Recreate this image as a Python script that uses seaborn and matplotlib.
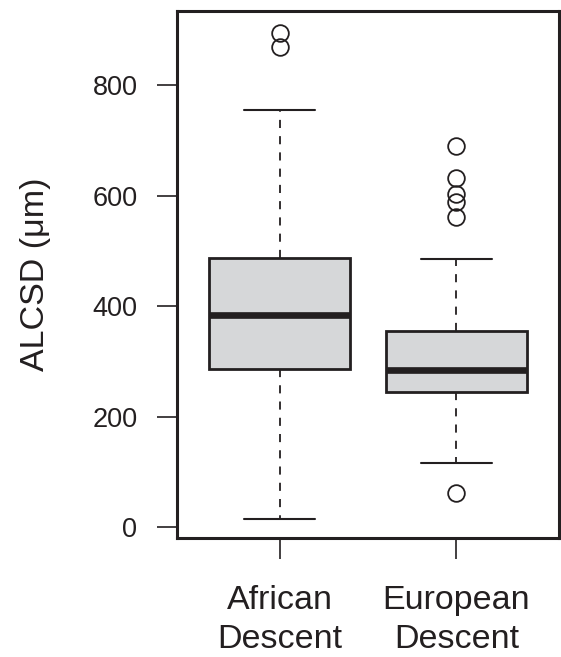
import numpy as np
import pandas as pd
import matplotlib
matplotlib.use("Agg")
import matplotlib.pyplot as plt
import seaborn as sns

# ------------------------------------------------------------
# Data: ALCSD values per group
# ------------------------------------------------------------
groups = ["African\nDescent", "European\nDescent"]

african = [16, 120, 190, 250, 286, 310, 340, 365, 384, 410, 440, 465, 488,
           600, 755, 868, 895]
european = [63, 117, 160, 190, 215, 235, 245, 252, 258, 265, 272, 279, 285,
            295, 305, 318, 330, 343, 355, 485, 561, 589, 603, 632, 690]

y_ticks = [0, 200, 400, 600, 800]

df = pd.DataFrame({
    "group": [groups[0]] * len(african) + [groups[1]] * len(european),
    "alcsd": african + european,
})

# ------------------------------------------------------------
# Plot
# ------------------------------------------------------------
sns.set_theme(style="white")
plt.rcParams["font.family"] = ["Liberation Sans", "DejaVu Sans"]

ink = "#231f20"
fig = plt.figure(figsize=(5.61, 6.57), dpi=100)
ax = fig.add_axes([177 / 561, 1 - 538 / 657, 382 / 561, 527 / 657])

sns.boxplot(data=df, x="group", y="alcsd", order=groups, ax=ax,
            color="#d6d7d9", saturation=1, width=0.8, linecolor=ink,
            linewidth=2.0, whis=1.5,
            boxprops=dict(facecolor="#d6d7d9", edgecolor=ink, linewidth=2.0),
            medianprops=dict(color=ink, linewidth=4.8, solid_capstyle="butt"),
            whiskerprops=dict(color=ink, linewidth=1.3, linestyle=(0, (4.5, 4.5))),
            capprops=dict(color=ink, linewidth=1.5),
            flierprops=dict(marker="o", markersize=12, markerfacecolor="none",
                            markeredgecolor=ink, markeredgewidth=1.3))

ax.set_xlim(-0.58, 1.58)
ax.set_ylim(-19, 934)
ax.set_yticks(y_ticks)
ax.set_yticklabels([str(t) for t in y_ticks])
for lbl in ax.get_xticklabels():
    lbl.set_linespacing(1.32)
ax.set_xlabel("")
ax.set_ylabel("ALCSD (μm)", fontsize=24.5, color=ink, labelpad=30)

for s in ax.spines.values():
    s.set_visible(True)
    s.set_color(ink)
    s.set_linewidth(2.2)

ax.tick_params(axis="y", which="major", direction="out", length=14.5, width=1.2,
               color=ink, labelsize=19.5, labelcolor=ink, pad=14, left=True)
ax.tick_params(axis="x", which="major", direction="out", length=15, width=1.2,
               color=ink, labelsize=24.5, labelcolor=ink, pad=19, bottom=True)
ax.grid(False)

fig.savefig("out.png", dpi=100)
